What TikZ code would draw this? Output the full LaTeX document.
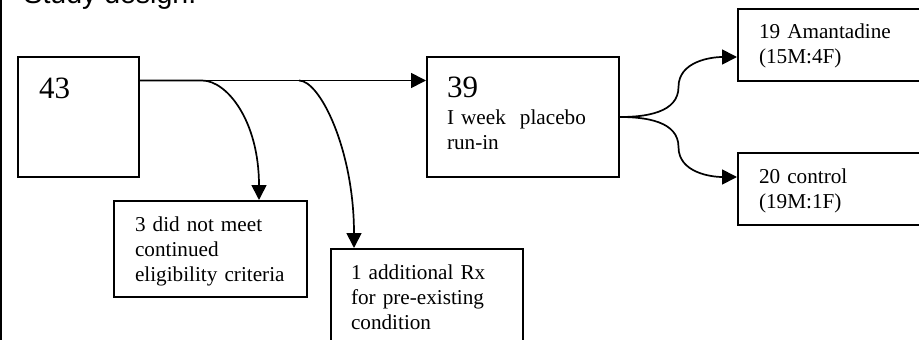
\documentclass[tikz,border=0pt]{standalone}
\usepackage{fontspec}
\setmainfont{Liberation Serif}
\newfontfamily\headfont{Liberation Sans}
\usetikzlibrary{arrows.meta,calc}
\newcommand{\bignum}[1]{{\fontsize{31}{31}\selectfont #1}}
\tikzset{
  box/.style={
    rectangle, draw=black, line width=2pt, anchor=north west,
    align=left, inner ysep=0pt, inner xsep=21pt,
    font=\fontsize{21.2}{25}\selectfont
  },
  arrow/.style={-{Triangle[length=15pt,width=15pt]}, line width=1.7pt, draw=black},
  heading/.style={anchor=base west, font=\headfont\fontsize{28.5}{30}\selectfont}
}

\begin{document}
\begin{tikzpicture}[x=1pt,y=1pt]
  \useasboundingbox (0,0) rectangle (919,-340);
  \clip (0,0) rectangle (919,-340);
  \draw[line width=2.2pt] (1,0) -- (1,-340);

  \node[heading] (title) at (20,-4) {Study design:};
  \node[box, text width=79pt, text height=41pt, text depth=79pt] (total) at (17,-56)
    {\bignum{43}};
  \node[box, text width=151pt, text height=30pt, text depth=66pt] (excl1) at (113,-200)
    {3 did not meet\\continued\\eligibility criteria};
  \node[box, inner xsep=20pt, text width=152pt, text height=30pt, text depth=100pt] (excl2) at (330,-248)
    {1 additional Rx\\for pre-existing\\condition};
  \node[box, inner xsep=20pt, text width=152pt, text height=40pt, text depth=80pt] (runin) at (426,-56)
    {\bignum{39}\\[2pt]I week\ \ placebo\\run-in};
  \node[box, text width=158pt, text height=29pt, text depth=43pt] (amant) at (737,-8)
    {19 Amantadine\\(15M:4F)};
  \node[box, text width=158pt, text height=30pt, text depth=42pt] (ctrl) at (737,-152)
    {20 control\\(19M:1F)};

  \coordinate (split) at ([yshift=36.5pt]total.east);
  \coordinate (fork) at ([xshift=159pt]split);
  \draw[arrow] (split) -- (split -| runin.west);
  \draw[arrow] (split) -- ++(62,0) .. controls +(25,0) and +(0,79) .. ([xshift=48.5pt]excl1.north);
  \draw[arrow] (fork) .. controls +(21,0) and +(0,98) .. ([xshift=-73pt]excl2.north);
  \draw[arrow] (runin.east) to[out=0,in=-90] ($(runin.east)!0.5!([yshift=-12pt]amant.west)$)
    to[out=90,in=180] ([yshift=-12pt]amant.west);
  \draw[arrow] (runin.east) to[out=0,in=90] ($(runin.east)!0.5!([yshift=12pt]ctrl.west)$)
    to[out=-90,in=180] ([yshift=12pt]ctrl.west);
\end{tikzpicture}
\end{document}
